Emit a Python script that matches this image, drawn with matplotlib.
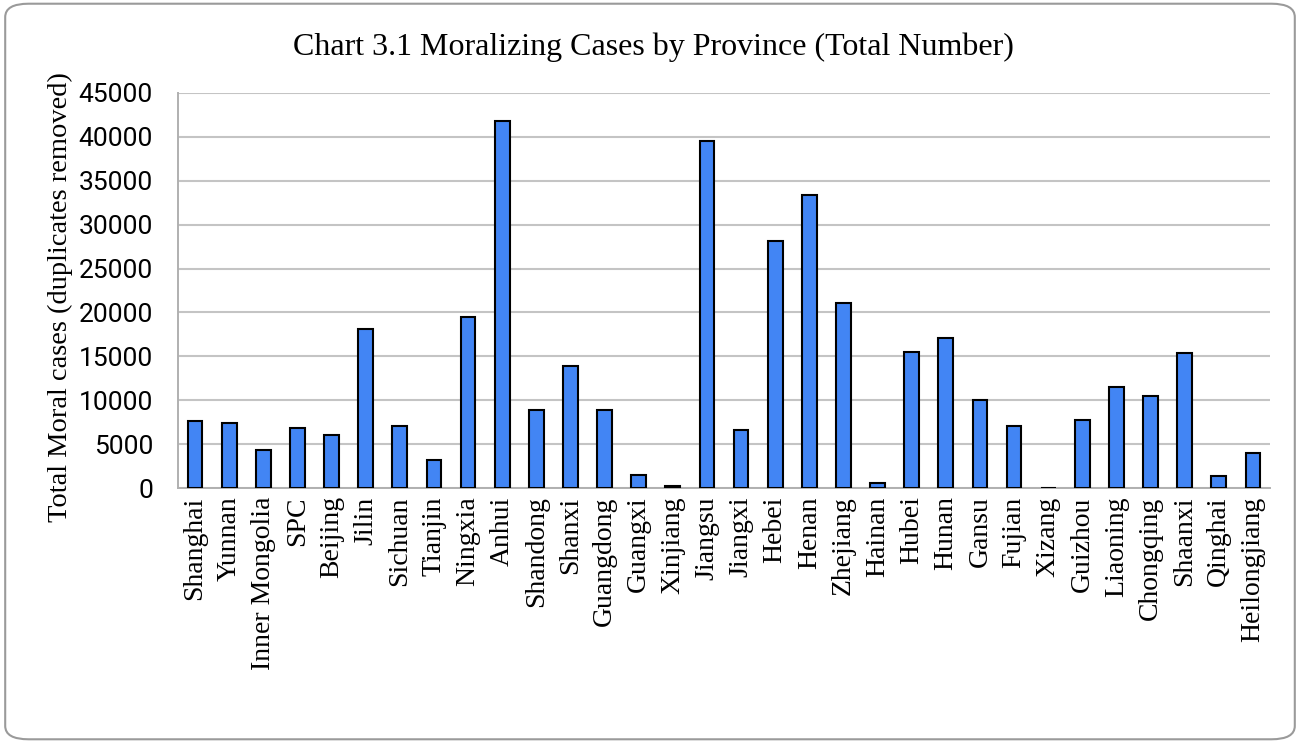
import matplotlib
matplotlib.use("Agg")
import matplotlib.pyplot as plt
from matplotlib.patches import FancyBboxPatch

provinces = ["Shanghai", "Yunnan", "Inner Mongolia", "SPC", "Beijing", "Jilin",
             "Sichuan", "Tianjin", "Ningxia", "Anhui", "Shandong", "Shanxi",
             "Guangdong", "Guangxi", "Xinjiang", "Jiangsu", "Jiangxi", "Hebei",
             "Henan", "Zhejiang", "Hainan", "Hubei", "Hunan", "Gansu", "Fujian",
             "Xizang", "Guizhou", "Liaoning", "Chongqing", "Shaanxi", "Qinghai",
             "Heilongjiang"]
cases = [7600, 7450, 4330, 6800, 6080, 18080, 7030, 3190, 19520, 41780, 8930,
         13860, 8850, 1520, 270, 39570, 6610, 28100, 33420, 21040, 610, 15500,
         17050, 10030, 7060, 50, 7750, 11550, 10480, 15380, 1330, 3950]
yticks = list(range(0, 45001, 5000))

serif = "Liberation Serif"
sans = "Roboto"

fig = plt.figure(figsize=(13, 7.43), dpi=100)

# rounded frame around the whole chart
frame = FancyBboxPatch((0.004, 0.005), 0.992, 0.99,
                       boxstyle="round,pad=0,rounding_size=0.018",
                       transform=fig.transFigure, facecolor="white",
                       edgecolor="#9a9a9a", linewidth=1.5, zorder=-10)
fig.patches.append(frame)

ax = fig.add_axes([178 / 1300, 1 - 488 / 743, 1092 / 1300, 395 / 743])
ax.set_facecolor("none")

x = range(len(provinces))
ax.bar(x, cases, width=0.43, color="#4285F4", edgecolor="black",
       linewidth=1.5, zorder=3)

ax.set_xlim(-0.5, len(provinces) - 0.5)
ax.set_ylim(0, 45000)
ax.set_yticks(yticks)
ax.set_yticklabels([str(v) for v in yticks], fontfamily=sans, fontsize=19)
ax.set_xticks(list(x))
ax.set_xticklabels(provinces, rotation=90, fontfamily=serif, fontsize=20)
ax.tick_params(axis="y", length=0, pad=18)
ax.tick_params(axis="x", length=0, pad=6)

ax.yaxis.grid(True, color="#c4c4c4", linewidth=1.5, zorder=0)
ax.set_axisbelow(True)
for side in ("top", "right"):
    ax.spines[side].set_visible(False)
for side in ("left", "bottom"):
    ax.spines[side].set_color("#b0b0b0")
    ax.spines[side].set_linewidth(1.4)

fig.text(60 / 1300, 1 - 297 / 743, "Total Moral cases (duplicates removed)",
         rotation=90, ha="center", va="center", fontfamily=serif, fontsize=20.5)
fig.text(653 / 1300, 1 - 47 / 743,
         "Chart 3.1 Moralizing Cases by Province (Total Number)",
         ha="center", va="center", fontfamily=serif, fontsize=23)

fig.savefig("out.png", dpi=100)
